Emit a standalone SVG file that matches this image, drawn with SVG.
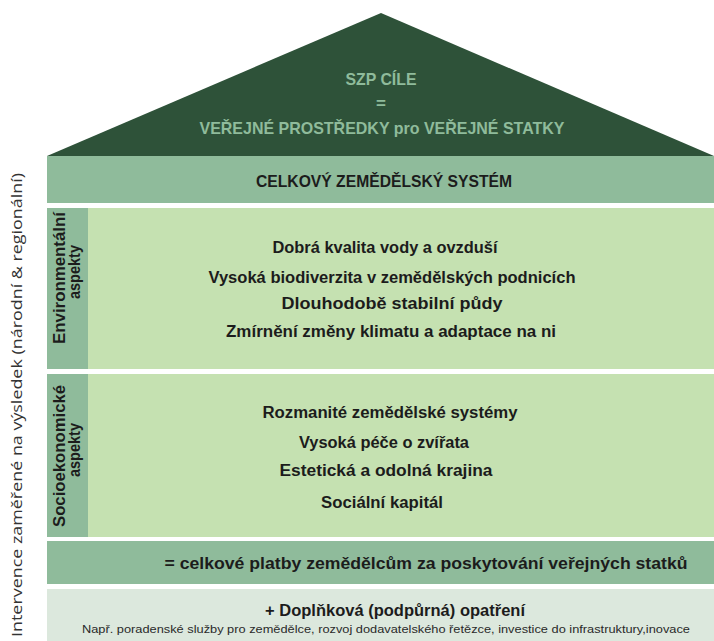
<svg xmlns="http://www.w3.org/2000/svg" width="714" height="641" viewBox="0 0 714 641">
  <style>
    .b { font-family: "Liberation Sans", "DejaVu Sans", sans-serif; font-weight: bold; fill: #1c1c1c; text-anchor: middle; }
    .roof { fill: #8fbb9b; font-size: 17px; }
    .main { font-size: 16px; }
    .side { font-size: 16px; }
    .side2 { font-size: 17px; }
    .mid { fill: #8fbb9b; }
    .light { fill: #c5e1b1; }
    .pale { fill: #dce8dd; }
    .note { font-family: "Liberation Sans", "DejaVu Sans", sans-serif; font-size: 11px; fill: #2a2a2a; text-anchor: middle; }
    .axis { font-family: "Open Sans", "Liberation Sans", sans-serif; font-size: 15px; fill: #333; text-anchor: middle; }
  </style>
  <rect width="714" height="641" fill="#ffffff"/>

  <g id="roof">
    <polygon points="47,156 381,13 714,156" fill="#2e5239"/>
    <text class="b roof" x="381" y="85" textLength="71" lengthAdjust="spacingAndGlyphs">SZP CÍLE</text>
    <text class="b roof" x="381" y="109">=</text>
    <text class="b roof" x="382" y="134" textLength="365" lengthAdjust="spacingAndGlyphs">VEŘEJNÉ PROSTŘEDKY pro VEŘEJNÉ STATKY</text>
  </g>

  <g id="system">
    <rect class="mid" x="47" y="156" width="667" height="47"/>
    <text class="b main" x="384" y="187" textLength="256" lengthAdjust="spacingAndGlyphs">CELKOVÝ ZEMĚDĚLSKÝ SYSTÉM</text>
  </g>

  <g id="environmental">
    <rect class="light" x="47" y="208" width="667" height="161"/>
    <rect class="mid" x="47" y="208" width="41" height="161"/>
    <g transform="translate(67,277) rotate(-90)">
      <text class="b side" x="-1" y="-2" textLength="132" lengthAdjust="spacingAndGlyphs">Environmentální</text>
      <text class="b side2" x="5" y="13" textLength="54" lengthAdjust="spacingAndGlyphs">aspekty</text>
    </g>
    <text class="b main" x="385" y="253" textLength="225" lengthAdjust="spacingAndGlyphs">Dobrá kvalita vody a ovzduší</text>
    <text class="b main" x="392" y="283" textLength="367" lengthAdjust="spacingAndGlyphs">Vysoká biodiverzita v zemědělských podnicích</text>
    <text class="b main" x="392" y="309" textLength="221" lengthAdjust="spacingAndGlyphs">Dlouhodobě stabilní půdy</text>
    <text class="b main" x="391" y="337" textLength="330" lengthAdjust="spacingAndGlyphs">Zmírnění změny klimatu a adaptace na ni</text>
  </g>

  <g id="socioeconomic">
    <rect class="light" x="47" y="374" width="667" height="163"/>
    <rect class="mid" x="47" y="374" width="41" height="163"/>
    <g transform="translate(67,455) rotate(-90)">
      <text class="b side" x="-1" y="-2" textLength="142" lengthAdjust="spacingAndGlyphs">Socioekonomické</text>
      <text class="b side2" x="5" y="13" textLength="54" lengthAdjust="spacingAndGlyphs">aspekty</text>
    </g>
    <text class="b main" x="390" y="418" textLength="255" lengthAdjust="spacingAndGlyphs">Rozmanité zemědělské systémy</text>
    <text class="b main" x="384" y="448" textLength="170" lengthAdjust="spacingAndGlyphs">Vysoká péče o zvířata</text>
    <text class="b main" x="386" y="476" textLength="213" lengthAdjust="spacingAndGlyphs">Estetická a odolná krajina</text>
    <text class="b main" x="382" y="508" textLength="122" lengthAdjust="spacingAndGlyphs">Sociální kapitál</text>
  </g>

  <g id="payments">
    <rect class="mid" x="47" y="541" width="667" height="43"/>
    <text class="b main" x="426" y="569" textLength="523" lengthAdjust="spacingAndGlyphs">= celkové platby zemědělcům za poskytování veřejných statků</text>
  </g>

  <g id="supplementary">
    <rect class="pale" x="47" y="589" width="667" height="52"/>
    <text class="b main" x="395" y="616" textLength="260" lengthAdjust="spacingAndGlyphs">+ Doplňková (podpůrná) opatření</text>
    <text class="note" x="386" y="633" textLength="608" lengthAdjust="spacingAndGlyphs">Např. poradenské služby pro zemědělce, rozvoj dodavatelského řetězce, investice do infrastruktury,inovace</text>
  </g>

  <g id="axis-label">
    <text class="axis" transform="translate(22,405) rotate(-90)" textLength="464" lengthAdjust="spacingAndGlyphs">Intervence zaměřené na výsledek (národní &amp; regionální)</text>
  </g>

  <g id="connectors"/>
</svg>
